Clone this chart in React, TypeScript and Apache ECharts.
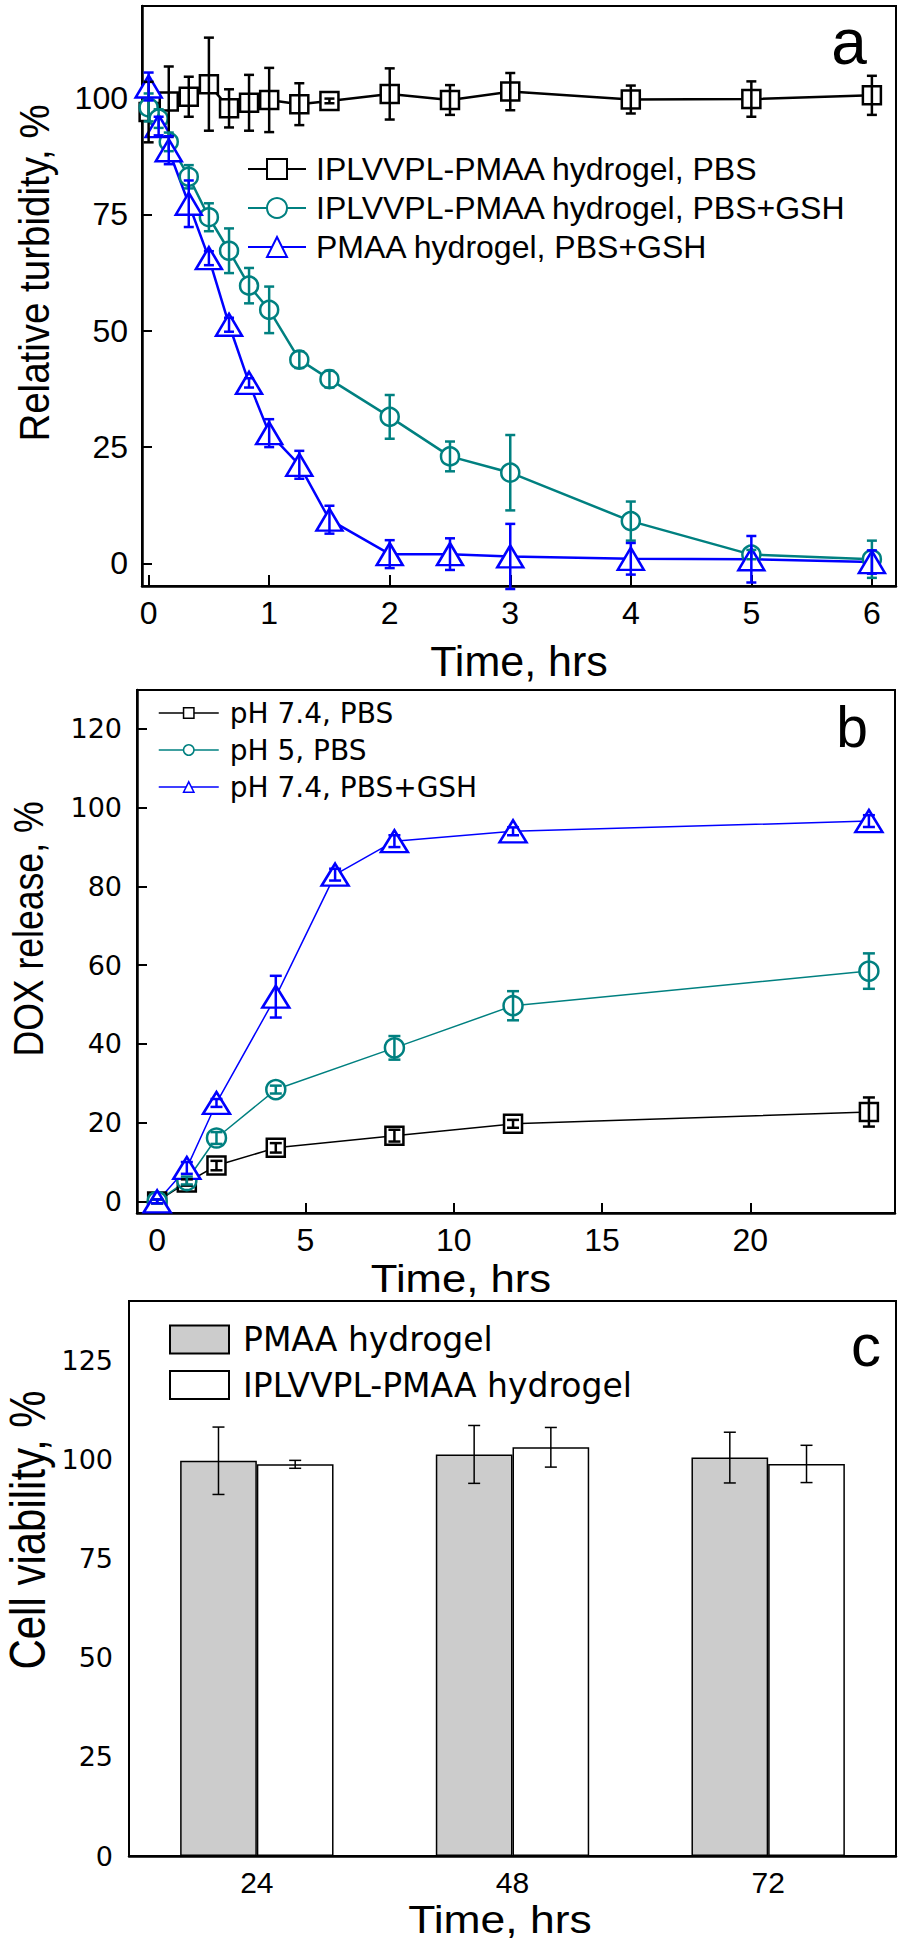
import React, { useEffect, useRef } from "react";
import * as echarts from "echarts";

const FONT_A = "'Liberation Sans', Arial, sans-serif";
const FONT_W = "'DejaVu Sans', sans-serif";

const BLACK = "#000000";
const TEAL = "#008080";
const BLUE = "#0000ff";
const GRAY = "#cccccc";

// ---------- Panel a: relative turbidity ----------
const timeAPBS = [0, 0.167, 0.333, 0.5, 0.667, 0.833, 1, 1.25, 1.5, 2, 2.5, 3, 4, 5, 6];
const turbPBS = [97, 99.3, 100.3, 103, 97.8, 99, 99.6, 98.7, 99.4, 100.9, 99.6, 101.4, 99.7, 99.8, 100.6];
const turbPBSErr = [6.5, 7.5, 4.3, 10, 4.1, 6, 6.9, 4.5, 0.5, 5.5, 3.2, 4, 3, 3.8, 4.2];

const timeAGSH = [0, 0.083, 0.167, 0.333, 0.5, 0.667, 0.833, 1, 1.25, 1.5, 2, 2.5, 3, 4, 5, 6];
const turbGSH = [98, 95.6, 90.6, 83.1, 74.4, 67.2, 59.7, 54.5, 43.8, 39.6, 31.5, 23, 19.5, 9.1, 1.9, 0.9];
const turbGSHErr = [3, 2, 2, 2.5, 3, 4.8, 3.8, 5, 1.8, 1.8, 4.7, 3.2, 8.1, 4.2, 1, 4];
const turbPMAA = [102.5, 94, 88.8, 77.3, 65.6, 51.3, 38.8, 28, 21.2, 9.4, 2, 2, 1.5, 1, 0.9, 0.3];
const turbPMAAErr = [3, 2, 3, 5, 1.5, 1.5, 1, 3, 3, 3, 3, 3.4, 7, 3.4, 5, 2.5];

const xTicksA = [0, 1, 2, 3, 4, 5, 6];
const yTicksA = [0, 25, 50, 75, 100];

// ---------- Panel b: DOX release ----------
const timeB = [0, 1, 2, 4, 8, 12, 24];
const timeBGSH = [0, 1, 2, 4, 6, 8, 12, 24];
const dox74 = [0, 4.8, 9.1, 13.6, 16.7, 19.7, 22.7];
const dox74Err = [0.5, 0.8, 1.2, 1.2, 1.5, 1, 3.7];
const dox5 = [0, 5.3, 16.1, 28.4, 39, 49.7, 58.5];
const dox5Err = [0.5, 1, 1.5, 1, 3, 3.7, 4.5];
const doxGSH = [0, 8.5, 25, 52, 83, 91.5, 94, 96.6];
const doxGSHErr = [0.5, 1.5, 1, 5.3, 1.5, 1.5, 1, 1.5];

const xTicksB = [0, 5, 10, 15, 20];
const yTicksB = [0, 20, 40, 60, 80, 100, 120];

// ---------- Panel c: cell viability ----------
const timeC = ["24", "48", "72"];
const viabPMAA = [99.7, 101.3, 100.5];
const viabPMAAErr = [8.5, 7.3, 6.4];
const viabIPL = [98.8, 103.1, 98.9];
const viabIPLErr = [1, 5, 4.7];
const yTicksC = [0, 25, 50, 75, 100, 125];

const NAMES_A = ["IPLVVPL-PMAA hydrogel, PBS", "IPLVVPL-PMAA hydrogel, PBS+GSH", "PMAA hydrogel, PBS+GSH"];
const NAMES_B = ["pH 7.4, PBS", "pH 5, PBS", "pH 7.4, PBS+GSH"];
const NAMES_C = ["PMAA hydrogel", "IPLVVPL-PMAA hydrogel"];

function zip(xs: number[], ys: number[]) {
  return xs.map((x, i) => [x, ys[i]]);
}
function zip3(xs: number[], ys: number[], es: number[]) {
  return xs.map((x, i) => [x, ys[i], es[i]]);
}

function errSeries(data: number[][], axis: number, color: string, cap: number, lw: number) {
  return {
    type: "custom",
    xAxisIndex: axis,
    yAxisIndex: axis,
    z: 4,
    silent: true,
    clip: false,
    data,
    encode: { x: 0, y: 1 },
    renderItem: (params: any, api: any) => {
      const x = api.value(0);
      const y = api.value(1);
      const e = api.value(2);
      const p1 = api.coord([x, y + e]);
      const p2 = api.coord([x, y - e]);
      const style = { stroke: color, lineWidth: lw, fill: "none" };
      return {
        type: "group",
        children: [
          { type: "line", shape: { x1: p1[0], y1: p1[1], x2: p2[0], y2: p2[1] }, style },
          { type: "line", shape: { x1: p1[0] - cap, y1: p1[1], x2: p1[0] + cap, y2: p1[1] }, style },
          { type: "line", shape: { x1: p2[0] - cap, y1: p2[1], x2: p2[0] + cap, y2: p2[1] }, style },
        ],
      };
    },
  };
}

function barErrSeries(vals: number[], errs: number[], side: number) {
  return {
    type: "custom",
    xAxisIndex: 2,
    yAxisIndex: 2,
    z: 4,
    silent: true,
    data: vals.map((v, i) => [i, v, errs[i]]),
    encode: { x: 0, y: 1 },
    renderItem: (params: any, api: any) => {
      const idx = api.value(0);
      const y = api.value(1);
      const e = api.value(2);
      const band = api.size([1, 0])[0];
      const off = side * band * 0.15;
      const p1 = api.coord([idx, y + e]);
      const p2 = api.coord([idx, y - e]);
      const x = p1[0] + off;
      const cap = 6;
      const style = { stroke: BLACK, lineWidth: 1.5, fill: "none" };
      return {
        type: "group",
        children: [
          { type: "line", shape: { x1: x, y1: p1[1], x2: x, y2: p2[1] }, style },
          { type: "line", shape: { x1: x - cap, y1: p1[1], x2: x + cap, y2: p1[1] }, style },
          { type: "line", shape: { x1: x - cap, y1: p2[1], x2: x + cap, y2: p2[1] }, style },
        ],
      };
    },
  };
}

function lineSeries(name: string, data: number[][], axis: number, color: string, symbol: string, size: any, lw: number) {
  return {
    type: "line",
    name,
    xAxisIndex: axis,
    yAxisIndex: axis,
    data,
    symbol,
    symbolSize: size,
    showAllSymbol: true,
    z: 3,
    lineStyle: { color, width: lw },
    itemStyle: { color: "#ffffff", borderColor: color, borderWidth: 2.5 },
  };
}

const axisLineStyle = { onZero: false, lineStyle: { color: BLACK, width: 2.5 } };

export default function App() {
  const ref = useRef<HTMLDivElement>(null);
  useEffect(() => {
    if (!ref.current) return;
    const chart = echarts.init(ref.current, undefined, { renderer: "svg" });
    const option: any = {
      animation: false,
      backgroundColor: "#ffffff",
      grid: [
        { left: 142, top: 6, width: 754, height: 580, show: true, borderColor: BLACK, borderWidth: 2, containLabel: false },
        { left: 137, top: 690, width: 758, height: 523, show: true, borderColor: BLACK, borderWidth: 2, containLabel: false },
        { left: 129, top: 1301, width: 767, height: 555, show: true, borderColor: BLACK, borderWidth: 2, containLabel: false },
      ],
      xAxis: [
        {
          type: "value", gridIndex: 0, min: -0.055, max: 6.2,
          axisLine: axisLineStyle,
          axisTick: { inside: true, length: 11, lineStyle: { color: BLACK, width: 2 }, customValues: xTicksA },
          axisLabel: { customValues: xTicksA, fontFamily: FONT_A, fontSize: 32, color: BLACK, margin: 11 },
          splitLine: { show: false },
        },
        {
          type: "value", gridIndex: 1, min: -0.68, max: 24.88,
          axisLine: axisLineStyle,
          axisTick: { inside: true, length: 10, lineStyle: { color: BLACK, width: 2 }, customValues: xTicksB },
          axisLabel: { customValues: xTicksB, fontFamily: FONT_A, fontSize: 32, color: BLACK, margin: 11 },
          splitLine: { show: false },
        },
        {
          type: "category", gridIndex: 2, data: timeC,
          axisLine: axisLineStyle,
          axisTick: { show: false },
          axisLabel: { fontFamily: FONT_A, fontSize: 30, color: BLACK, margin: 11 },
          splitLine: { show: false },
        },
      ],
      yAxis: [
        {
          type: "value", gridIndex: 0, min: -4.85, max: 119.8,
          axisLine: axisLineStyle,
          axisTick: { inside: true, length: 10, lineStyle: { color: BLACK, width: 2 }, customValues: yTicksA },
          axisLabel: { customValues: yTicksA, fontFamily: FONT_A, fontSize: 32, color: BLACK, margin: 14 },
          splitLine: { show: false },
        },
        {
          type: "value", gridIndex: 1, min: -2.95, max: 129.9,
          axisLine: axisLineStyle,
          axisTick: { inside: true, length: 10, lineStyle: { color: BLACK, width: 2 }, customValues: yTicksB },
          axisLabel: { customValues: yTicksB, fontFamily: FONT_W, fontSize: 27, color: BLACK, margin: 15 },
          splitLine: { show: false },
        },
        {
          type: "value", gridIndex: 2, min: 0, max: 140,
          axisLine: axisLineStyle,
          axisTick: { inside: true, length: 10, lineStyle: { color: BLACK, width: 2 }, customValues: yTicksC },
          axisLabel: { customValues: yTicksC, fontFamily: FONT_W, fontSize: 27, color: BLACK, margin: 16 },
          splitLine: { show: false },
        },
      ],
      legend: [
        {
          data: NAMES_A, orient: "vertical", left: 247, top: 153, padding: 0,
          itemWidth: 58, itemHeight: 25, itemGap: 7, selectedMode: false,
          textStyle: { fontFamily: FONT_A, fontSize: 32, lineHeight: 25, color: BLACK, padding: [0, 0, 0, 5] },
        },
        {
          data: NAMES_B, orient: "vertical", left: 158, top: 699, padding: 0,
          itemWidth: 60, itemHeight: 13, itemGap: 9, selectedMode: false,
          itemStyle: { borderWidth: 1.5 }, lineStyle: { width: 1.5 },
          textStyle: { fontFamily: FONT_W, fontSize: 28, lineHeight: 28, color: BLACK, padding: [0, 0, 0, 6] },
        },
        {
          data: NAMES_C.map((n) => ({ name: n, icon: "rect" })), orient: "vertical", left: 169, top: 1323, padding: 0,
          itemWidth: 59, itemHeight: 28, itemGap: 12.5, selectedMode: false,
          textStyle: { fontFamily: FONT_W, fontSize: 33, lineHeight: 28, color: BLACK, padding: [0, 0, 0, 9] },
        },
      ],
      series: [
        // panel a
        lineSeries(NAMES_A[0], zip(timeAPBS, turbPBS), 0, BLACK, "rect", 18, 2.5),
        lineSeries(NAMES_A[1], zip(timeAGSH, turbGSH), 0, TEAL, "circle", 18, 2.5),
        lineSeries(NAMES_A[2], zip(timeAGSH, turbPMAA), 0, BLUE, "triangle", [26, 22], 2.5),
        errSeries(zip3(timeAPBS, turbPBS, turbPBSErr), 0, BLACK, 5, 2.5),
        errSeries(zip3(timeAGSH, turbGSH, turbGSHErr), 0, TEAL, 5, 2.5),
        errSeries(zip3(timeAGSH, turbPMAA, turbPMAAErr), 0, BLUE, 5, 2.5),
        // panel b
        lineSeries(NAMES_B[0], zip(timeB, dox74), 1, BLACK, "rect", 18, 1.5),
        lineSeries(NAMES_B[1], zip(timeB, dox5), 1, TEAL, "circle", 19, 1.5),
        lineSeries(NAMES_B[2], zip(timeBGSH, doxGSH), 1, BLUE, "triangle", [27, 22], 1.5),
        errSeries(zip3(timeB, dox74, dox74Err), 1, BLACK, 6, 2.5),
        errSeries(zip3(timeB, dox5, dox5Err), 1, TEAL, 6, 2.5),
        errSeries(zip3(timeBGSH, doxGSH, doxGSHErr), 1, BLUE, 6, 2.5),
        // panel c
        {
          type: "bar", name: NAMES_C[0], xAxisIndex: 2, yAxisIndex: 2, data: viabPMAA,
          barWidth: "30%", barGap: "0%",
          itemStyle: { color: GRAY, borderColor: BLACK, borderWidth: 1.5 },
        },
        {
          type: "bar", name: NAMES_C[1], xAxisIndex: 2, yAxisIndex: 2, data: viabIPL,
          barWidth: "30%", barGap: "0%",
          itemStyle: { color: "#ffffff", borderColor: BLACK, borderWidth: 1.5 },
        },
        barErrSeries(viabPMAA, viabPMAAErr, -1),
        barErrSeries(viabIPL, viabIPLErr, 1),
      ],
      graphic: [
        // axis titles
        { type: "text", x: 519, y: 661, style: { text: "Time, hrs", fontFamily: FONT_A, fontSize: 43, fill: BLACK, align: "center", verticalAlign: "middle" } },
        { type: "text", x: 461, y: 1279, scaleX: 1.12, style: { text: "Time, hrs", fontFamily: FONT_A, fontSize: 39, fill: BLACK, align: "center", verticalAlign: "middle" } },
        { type: "text", x: 500, y: 1919, scaleX: 1.14, style: { text: "Time, hrs", fontFamily: FONT_A, fontSize: 39, fill: BLACK, align: "center", verticalAlign: "middle" } },
        { type: "text", x: 34, y: 273, rotation: Math.PI / 2, scaleY: 1.12, style: { text: "Relative turbidity, %", fontFamily: FONT_A, fontSize: 38.5, fill: BLACK, align: "center", verticalAlign: "middle" } },
        { type: "text", x: 28, y: 929, rotation: Math.PI / 2, scaleY: 1.22, style: { text: "DOX release, %", fontFamily: FONT_A, fontSize: 35.6, fill: BLACK, align: "center", verticalAlign: "middle" } },
        { type: "text", x: 28, y: 1530, rotation: Math.PI / 2, scaleY: 1.2, style: { text: "Cell viability, %", fontFamily: FONT_A, fontSize: 42, fill: BLACK, align: "center", verticalAlign: "middle" } },
        // panel labels
        { type: "text", x: 849, y: 42, style: { text: "a", fontFamily: FONT_A, fontSize: 64, fill: BLACK, align: "center", verticalAlign: "middle" } },
        { type: "text", x: 852, y: 727, style: { text: "b", fontFamily: FONT_A, fontSize: 57, fill: BLACK, align: "center", verticalAlign: "middle" } },
        { type: "text", x: 866, y: 1345, style: { text: "c", fontFamily: FONT_A, fontSize: 60, fill: BLACK, align: "center", verticalAlign: "middle" } },
      ],
    };
    chart.setOption(option);
    return () => chart.dispose();
  }, []);
  return (
    <div
      ref={ref}
      style={{ position: "absolute", left: 0, top: 0, width: 902, height: 1950, background: "#ffffff" }}
    />
  );
}
